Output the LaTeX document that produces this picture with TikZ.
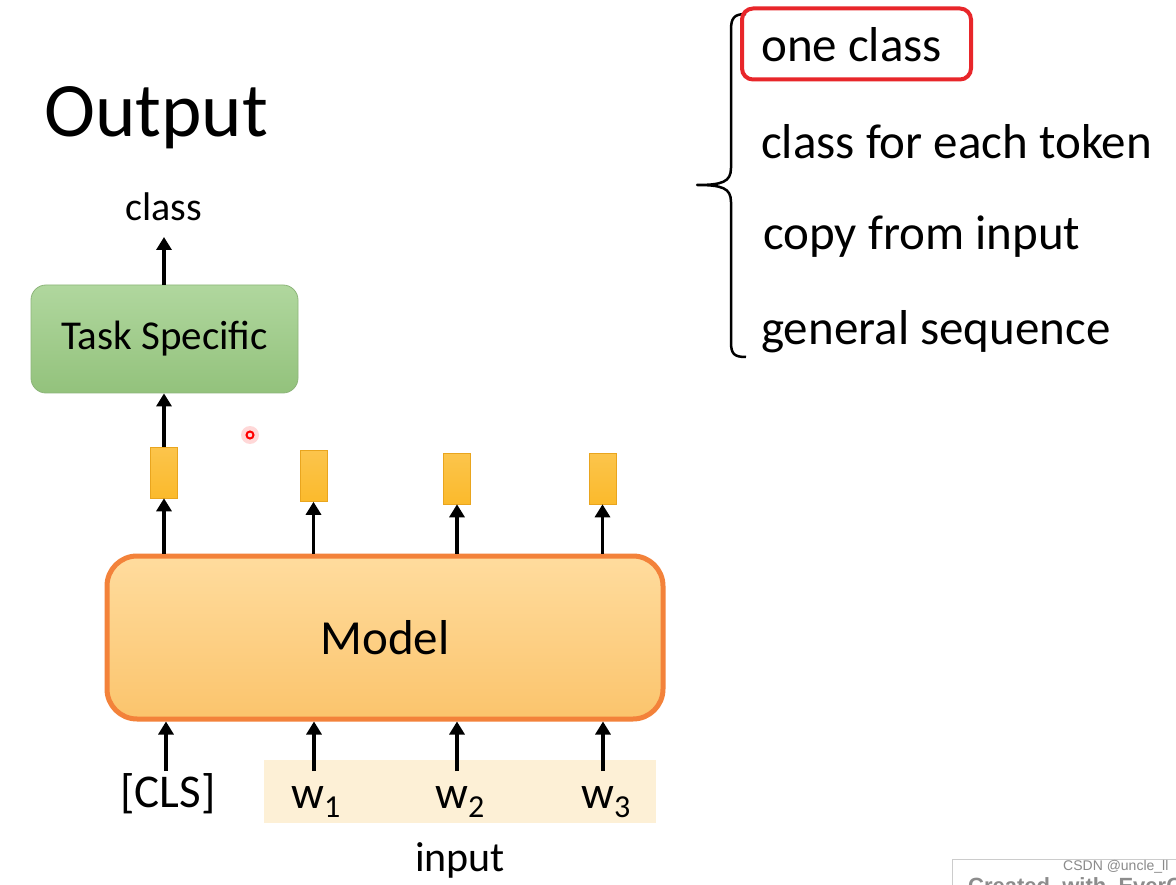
\documentclass[tikz,border=0pt]{standalone}
\usepackage{fontspec}
\setmainfont{Carlito}
\newfontfamily\wmfont{Liberation Sans}
\usetikzlibrary{arrows.meta}
\definecolor{greenfillA}{HTML}{B0D79E}
\definecolor{greenfillB}{HTML}{93C27C}
\definecolor{greenline}{HTML}{8DB57A}
\definecolor{orangeline}{HTML}{F3823A}
\definecolor{orangeA}{HTML}{FFDC9E}
\definecolor{orangeB}{HTML}{FBC46C}
\definecolor{goldbox}{HTML}{FBBA2C}
\definecolor{goldline}{HTML}{E9A51E}
\definecolor{inputbg}{HTML}{FDF0D6}
\definecolor{redbox}{HTML}{E8262A}
\definecolor{wmgray}{HTML}{8A8A8A}
\tikzset{
  fs/.style={font=\fontsize{#1}{#1}\selectfont},
  uparrow/.style={line width=3.6pt,-{Triangle[length=13pt,width=15pt]}},
  tokbox/.style={draw=goldline,line width=0.6pt,top color=goldbox!85!white,bottom color=goldbox,minimum width=27pt,minimum height=51pt,inner sep=0pt},
  listtext/.style={fs=49,anchor=west,inner sep=0pt},
}
\newcommand{\wsub}[1]{w\raisebox{-0.2em}{\fontsize{32}{32}\selectfont #1}}
\begin{document}
\begin{tikzpicture}[x=1pt,y=-1pt]
\useasboundingbox (0,0) rectangle (1176,885);
\fill[white] (0,0) rectangle (1176,885);

% title
\node[fs=77,anchor=west,inner sep=0pt] (title) at (44,118) {Output};

% task specific box
\node[draw=greenline,line width=0.8pt,rounded corners=15pt,top color=greenfillA,bottom color=greenfillB,
      minimum width=267pt,minimum height=108pt,inner sep=0pt,fs=41] (task) at (164.5,339) {Task Specific};
\node[fs=40,inner sep=0pt] (cls) at (164,207) {class};
\coordinate (clsb) at (164,237);
\draw[uparrow] (task.north -| clsb) -- (clsb);

% token boxes
\node[tokbox] (t1) at (164,472.5) {};
\node[tokbox] (t2) at (313.5,476) {};
\node[tokbox] (t3) at (457,478.5) {};
\node[tokbox] (t4) at (602.5,478.5) {};
\draw[uparrow] (t1.north) -- (t1.north |- task.south);

% model box
\node[draw=orangeline,line width=5pt,rounded corners=30pt,top color=orangeA,bottom color=orangeB,
      minimum width=556pt,minimum height=163pt,inner sep=0pt,fs=49] (model) at (385,637.5) {Model};
\foreach \t in {t1,t2,t3,t4}{
  \draw[uparrow] (\t.south |- model.north) -- (\t.south);
}

% input highlight
\fill[inputbg] (264,760) rectangle (656,823);
\node[fs=47,inner sep=0pt] (icls) at (168,794) {[CLS]};
\node[fs=46,inner sep=0pt,anchor=base west] (w1) at (291,808) {\wsub{1}};
\node[fs=46,inner sep=0pt,anchor=base west] (w2) at (435,808) {\wsub{2}};
\node[fs=46,inner sep=0pt,anchor=base west] (w3) at (581,808) {\wsub{3}};
\node[fs=42,inner sep=0pt] (inp) at (460,860) {input};

\coordinate (a0) at (166,771);
\coordinate (a1) at (314,771);
\coordinate (a2) at (457,771);
\coordinate (a3) at (603,771);
\foreach \a in {a0,a1,a2,a3}{
  \draw[uparrow] (\a) -- (\a |- model.south);
}

% laser pointer dot
\fill[red!25,opacity=0.6] (250,435) circle (9pt);
\draw[red,line width=2pt] (250,435) circle (3.5pt);

% brace
\draw[line width=2.5pt,line join=round] (746,14) .. controls (734,14) and (731,18) .. (731,30)
  -- (731,168) .. controls (731,182) and (722,185) .. (697,185)
  .. controls (722,185) and (731,188) .. (731,202)
  -- (731,342) .. controls (731,354) and (734,357) .. (746,357);

% list
\node[draw=redbox,line width=4pt,rounded corners=11pt,minimum width=229pt,minimum height=71pt] (redb) at (856.5,44) {};
\node[listtext] (l1) at (761,45) {one class};
\node[listtext] (l2) at (761,142) {class for each token};
\node[listtext] (l3) at (763,237) {copy from input};
\node[listtext] (l4) at (761,332) {general sequence};

% watermark
\begin{scope}
\clip (940,850) rectangle (1176,885);
\draw[draw=black!20,fill=white,line width=1pt] (952,859) rectangle (1190,900);
\node[anchor=west,font=\wmfont\bfseries\fontsize{22}{22}\selectfont,text=black!45,inner sep=0pt] (wm2) at (968,886) {Created\ \ with\ \ EverCam};
\end{scope}
\node[anchor=west,font=\wmfont\fontsize{14}{14}\selectfont,text=wmgray,inner sep=0pt] (wm1) at (1063,867) {CSDN @uncle\_ll};
\end{tikzpicture}
\end{document}
